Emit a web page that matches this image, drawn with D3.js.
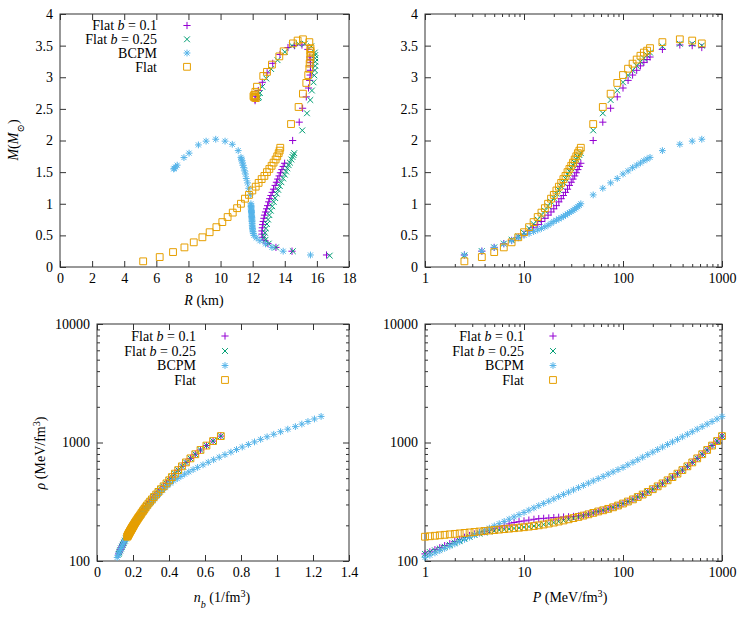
<!DOCTYPE html>
<html><head><meta charset="utf-8">
<script src="https://cdn.jsdelivr.net/npm/d3@7"></script>
<style>
body{margin:0;background:#fff}
svg{display:block}
text{font-family:"Liberation Serif","Times New Roman",Times,Tinos,"Noto Serif","DejaVu Serif",FreeSerif,serif;fill:#000}
</style>
</head><body>
<svg id="c" width="747" height="623"></svg>
<script>
// ---------------- DATA ----------------
// Mass-radius sequences (central pressure, MeV/fm^3)
const pcGrid = [2.5,3.75,5,6.25,7.5,8.75,10,11.25,12.5,13.75,15,16.25,17.5,18.75,20,21.25,22.5,23.75,25,26.25,27.5,28.75,30,31.25,32.5,33.75,35,36.25,37.5,50,62.5,75,87.5,100,112.5,125,137.5,150,162.5,175,187.5,250,375,500,625];
const pcBeyond = [1250,2500,3750,5000,6250,7500,8750,10000,11250,12500,13750,15000];

const massB01 = [0.19,0.25,0.31,0.37,0.42,0.47,0.52,0.57,0.62,0.67,0.72,0.77,0.82,0.87,0.92,0.97,1.03,1.08,1.13,1.18,1.23,1.29,1.34,1.39,1.44,1.49,1.54,1.59,1.64,2.00,2.29,2.51,2.69,2.83,2.95,3.035,3.11,3.18,3.235,3.28,3.32,3.44,3.51,3.50,3.47,3.36,3.22,3.07,2.92,2.79,2.70,2.65,2.63];
const radiusB01 = [16.6,14.45,13.45,12.95,12.7,12.6,12.58,12.58,12.6,12.62,12.66,12.7,12.74,12.8,12.87,12.93,13.0,13.06,13.14,13.22,13.3,13.4,13.48,13.56,13.65,13.73,13.82,13.9,13.99,14.49,14.9,15.11,15.34,15.48,15.55,15.58,15.6,15.6,15.6,15.58,15.56,15.44,15.07,14.6,14.2,13.7,13.25,12.9,12.6,12.35,12.2,12.15,12.15];

const massB025 = [0.18,0.25,0.31,0.37,0.43,0.48,0.54,0.61,0.68,0.75,0.82,0.89,0.96,1.03,1.09,1.16,1.22,1.28,1.34,1.40,1.46,1.51,1.56,1.61,1.65,1.70,1.74,1.77,1.80,2.16,2.43,2.64,2.79,2.92,3.03,3.11,3.18,3.245,3.30,3.35,3.39,3.49,3.53,3.53,3.50,3.40,3.27,3.13,2.98,2.85,2.75,2.69,2.67];
const radiusB025 = [16.8,14.5,13.45,13.0,12.8,12.72,12.77,12.83,12.89,12.96,13.04,13.13,13.22,13.31,13.4,13.5,13.59,13.69,13.79,13.9,14.0,14.08,14.16,14.24,14.32,14.41,14.48,14.54,14.59,15.09,15.38,15.59,15.69,15.79,15.84,15.88,15.9,15.9,15.9,15.89,15.87,15.65,15.25,14.85,14.45,14.0,13.55,13.15,12.85,12.6,12.45,12.38,12.35];

const massBCPM = [0.19,0.25,0.31,0.365,0.415,0.46,0.50,0.53,0.56,0.585,0.61,0.635,0.66,0.69,0.72,0.74,0.76,0.78,0.80,0.82,0.84,0.86,0.876,0.895,0.915,0.935,0.955,0.975,1.0,1.14,1.245,1.33,1.40,1.47,1.52,1.57,1.61,1.644,1.68,1.707,1.733,1.84,1.94,1.99,2.02,1.99,1.93,1.80,1.73,1.61,1.58,1.56,1.55];
const radiusBCPM = [15.6,13.9,13.2,12.8,12.45,12.22,12.08,12.04,12.02,12.0,11.99,11.98,11.97,11.97,11.96,11.96,11.95,11.95,11.94,11.94,11.93,11.93,11.92,11.92,11.91,11.91,11.9,11.9,11.89,11.85,11.75,11.68,11.6,11.55,11.5,11.45,11.4,11.37,11.33,11.3,11.27,11.1,10.73,10.28,9.7,9.1,8.62,8.04,7.72,7.3,7.2,7.12,7.08];

const massFlat = [0.09,0.157,0.236,0.31,0.39,0.47,0.55,0.63,0.71,0.79,0.86,0.93,1.0,1.08,1.14,1.21,1.27,1.33,1.39,1.44,1.50,1.55,1.60,1.65,1.70,1.75,1.80,1.84,1.885,2.26,2.53,2.74,2.91,3.035,3.135,3.215,3.28,3.34,3.39,3.42,3.46,3.555,3.60,3.58,3.535,3.41,3.33,3.20,3.085,3.02,2.85,2.77,2.72,2.70,2.68,2.67,2.69];
const radiusFlat = [5.18,6.21,7.04,7.75,8.33,8.87,9.32,9.74,10.11,10.44,10.76,11.03,11.27,11.52,11.77,11.98,12.19,12.37,12.56,12.73,12.89,13.04,13.18,13.3,13.43,13.53,13.62,13.68,13.72,14.39,14.86,15.13,15.34,15.46,15.53,15.55,15.59,15.6,15.6,15.6,15.6,15.53,15.13,14.8,14.51,13.93,13.66,13.2,12.89,12.66,12.27,12.17,12.1,12.05,12.1,12.2,12.15];

// Equation of state tables (pressure grid, MeV/fm^3)
const pressureGrid = [1,1.12,1.26,1.41,1.58,1.78,2.00,2.24,2.51,2.82,3.16,3.55,3.98,4.47,5.01,5.62,6.31,7.08,7.94,8.91,10,11.2,12.6,14.1,15.8,17.8,20.0,22.4,25.1,28.2,31.6,35.5,39.8,44.7,50.1,56.2,63.1,70.8,79.4,89.1,100,112,126,141,158,178,200,224,251,282,316,355,398,447,501,562,631,708,794,891,1000];

const rhoB01 = [114.8,119.4,124.5,129.4,134.9,140.3,146.2,152.4,158.5,164.1,168.9,173.0,177.0,182.0,188.0,194.5,199.5,205.6,211.3,214.8,217.8,221.3,224.9,227.5,229.1,230.7,232.3,233.9,235.0,236.0,237.7,239.9,243.2,247.7,254.7,261.8,267.9,275.4,283.8,293.8,305.5,317.7,331.1,346.7,363.9,382.8,403.6,426.6,451.9,479.7,510.5,545.8,584.8,629.5,679.2,734.5,796.2,865.0,941.9,1028.0,1132.4];
const nbB01 = [0.120,0.125,0.130,0.135,0.141,0.146,0.152,0.158,0.164,0.169,0.174,0.178,0.182,0.187,0.193,0.199,0.203,0.208,0.213,0.216,0.219,0.222,0.225,0.227,0.228,0.229,0.231,0.232,0.233,0.234,0.235,0.237,0.240,0.243,0.248,0.254,0.258,0.264,0.270,0.277,0.286,0.295,0.305,0.316,0.329,0.341,0.355,0.370,0.386,0.401,0.416,0.433,0.451,0.472,0.494,0.519,0.546,0.575,0.608,0.645,0.688];

const rhoB025 = [114.8,118.9,123.0,127.4,131.8,137.1,142.9,148.6,154.9,160.3,166.0,170.2,173.8,177.0,179.9,182.4,184.5,186.2,188.4,190.5,192.8,195.0,197.2,200.0,203.2,207.0,210.9,215.3,219.8,224.9,230.1,235.5,241.5,247.7,254.7,261.8,267.9,275.4,283.8,293.8,305.5,317.7,331.1,346.7,363.9,382.8,403.6,426.6,451.9,479.7,510.5,545.8,584.8,629.5,679.2,734.5,796.2,865.0,941.9,1028.0,1132.4];
const nbB025 = [0.120,0.124,0.129,0.133,0.138,0.143,0.149,0.155,0.161,0.166,0.171,0.175,0.180,0.183,0.186,0.188,0.190,0.191,0.193,0.195,0.197,0.199,0.201,0.203,0.206,0.209,0.212,0.216,0.220,0.224,0.228,0.233,0.238,0.243,0.248,0.254,0.258,0.264,0.270,0.277,0.286,0.295,0.305,0.316,0.329,0.341,0.355,0.370,0.386,0.401,0.416,0.433,0.451,0.472,0.494,0.519,0.546,0.575,0.608,0.645,0.688];

const rhoBCPM = [107.2,111.9,117.0,122.2,127.6,133.4,139.3,145.5,152.1,158.9,166.0,173.4,181.1,189.2,197.7,206.5,215.8,225.4,235.5,246.0,257.0,268.5,280.5,293.1,306.2,319.9,334.2,349.1,364.8,381.1,398.1,415.9,434.5,453.9,474.2,495.5,517.6,540.8,564.9,590.2,616.6,648.0,680.8,715.4,751.6,789.8,829.9,872.0,916.2,962.7,1011.6,1062.9,1116.9,1173.6,1233.1,1295.7,1361.5,1430.6,1503.2,1579.5,1659.6];
const nbBCPM = [0.112,0.117,0.122,0.128,0.133,0.139,0.145,0.152,0.158,0.165,0.171,0.178,0.186,0.194,0.202,0.210,0.219,0.228,0.237,0.246,0.256,0.266,0.276,0.286,0.297,0.308,0.318,0.329,0.341,0.352,0.365,0.379,0.393,0.409,0.425,0.446,0.466,0.487,0.510,0.534,0.559,0.589,0.618,0.648,0.679,0.711,0.744,0.775,0.807,0.841,0.875,0.909,0.945,0.982,1.020,1.060,1.102,1.138,1.172,1.208,1.245];

const rhoFlat = [160.3,161.8,163.3,164.8,166.3,167.9,169.4,171.0,172.6,174.2,175.8,177.4,179.1,180.7,182.4,184.1,185.8,187.5,189.2,191.0,192.8,195.0,197.2,200.0,203.2,207.0,210.9,215.3,219.8,224.9,230.1,235.5,241.5,247.7,254.7,261.8,267.9,275.4,283.8,293.8,305.5,317.7,331.1,346.7,363.9,382.8,403.6,426.6,451.9,479.7,510.5,545.8,584.8,629.5,679.2,734.5,796.2,865.0,941.9,1028.0,1132.4];
const nbFlat = [0.168,0.169,0.171,0.172,0.173,0.175,0.176,0.178,0.179,0.180,0.182,0.183,0.185,0.186,0.188,0.189,0.191,0.192,0.194,0.195,0.197,0.199,0.201,0.203,0.206,0.209,0.212,0.216,0.220,0.224,0.228,0.233,0.238,0.243,0.248,0.254,0.258,0.264,0.270,0.277,0.286,0.295,0.305,0.316,0.329,0.341,0.355,0.370,0.386,0.401,0.416,0.433,0.451,0.472,0.494,0.519,0.546,0.575,0.608,0.645,0.688];

// Tick values
const radiusTicks = [0,2,4,6,8,10,12,14,16,18];
const massTicks = [0,0.5,1,1.5,2,2.5,3,3.5,4];
const pressureTicks = [1,10,100,1000];
const nbTicks = [0,0.2,0.4,0.6,0.8,1,1.2,1.4];
const rhoTicks = [100,1000,10000];

// Series definitions (drawing order = legend order)
const seriesNames = ["b01","b025","bcpm","flat"];
const seriesStyle = {
  b01:  {color:"#9400D3", marker:"plus"},
  b025: {color:"#009E73", marker:"cross"},
  bcpm: {color:"#56B4E9", marker:"star"},
  flat: {color:"#E69F00", marker:"square"}
};
const mrData = {
  b01:{m:massB01,r:radiusB01}, b025:{m:massB025,r:radiusB025},
  bcpm:{m:massBCPM,r:radiusBCPM}, flat:{m:massFlat,r:radiusFlat}
};
const eosData = {
  b01:{rho:rhoB01,nb:nbB01}, b025:{rho:rhoB025,nb:nbB025},
  bcpm:{rho:rhoBCPM,nb:nbBCPM}, flat:{rho:rhoFlat,nb:nbFlat}
};

// ---------------- DRAWING ----------------
const svg = d3.select("#c");
const FONT = 14;
const FAMILY = '"Liberation Serif","Times New Roman",Times,Tinos,"Noto Serif","DejaVu Serif",FreeSerif,serif';

function markerPath(type){
  if(type==="plus"){const s=3.6;return `M${-s},0H${s}M0,${-s}V${s}`;}
  if(type==="cross"){const s=2.9;return `M${-s},${-s}L${s},${s}M${-s},${s}L${s},${-s}`;}
  if(type==="star"){const s=3.4,c=2.5;return `M${-s},0H${s}M0,${-s}V${s}M${-c},${-c}L${c},${c}M${-c},${c}L${c},${-c}`;}
  const s=3.4; return `M${-s},${-s}H${s}V${s}H${-s}Z`;
}

function inDomain(scale,v){const d=scale.domain();const lo=Math.min(d[0],d[1]),hi=Math.max(d[0],d[1]);return v>=lo-1e-9&&v<=hi+1e-9;}

function drawPoints(g,xs,ys,xS,yS,style){
  const pts=xs.map((x,i)=>[x,ys[i]]).filter(p=>inDomain(xS,p[0])&&inDomain(yS,p[1]));
  g.append("g").selectAll("path").data(pts).join("path")
    .attr("d",markerPath(style.marker))
    .attr("transform",p=>`translate(${xS(p[0])},${yS(p[1])})`)
    .attr("fill","none").attr("stroke",style.color).attr("stroke-width",1);
}

function fmt(d){return String(d);}

function frame(xS,yS,opts){
  const g=svg.append("g");
  const [x0,x1]=xS.range(), [y1,y0]=yS.range();
  const styleAxis=sel=>{sel.select(".domain").remove();sel.selectAll("line").attr("stroke","#333");
    sel.attr("font-family",FAMILY).attr("font-size",FONT);};
  const majorX=opts.xTicks, majorY=opts.yTicks;
  g.append("g").attr("transform",`translate(0,${y1})`)
    .call(d3.axisBottom(xS).tickValues(majorX).tickFormat(fmt).tickSizeInner(-6).tickSizeOuter(0).tickPadding(6)).call(styleAxis);
  g.append("g").attr("transform",`translate(0,${y0})`)
    .call(d3.axisTop(xS).tickValues(majorX).tickFormat("").tickSizeInner(-6).tickSizeOuter(0)).call(styleAxis);
  g.append("g").attr("transform",`translate(${x0},0)`)
    .call(d3.axisLeft(yS).tickValues(majorY).tickFormat(fmt).tickSizeInner(-6).tickSizeOuter(0).tickPadding(7)).call(styleAxis);
  g.append("g").attr("transform",`translate(${x1},0)`)
    .call(d3.axisRight(yS).tickValues(majorY).tickFormat("").tickSizeInner(-6).tickSizeOuter(0)).call(styleAxis);
  if(opts.logX){
    const minor=xS.ticks().filter(v=>!majorX.includes(v));
    g.append("g").attr("transform",`translate(0,${y1})`).call(d3.axisBottom(xS).tickValues(minor).tickFormat("").tickSizeInner(-3).tickSizeOuter(0)).call(styleAxis);
    g.append("g").attr("transform",`translate(0,${y0})`).call(d3.axisTop(xS).tickValues(minor).tickFormat("").tickSizeInner(-3).tickSizeOuter(0)).call(styleAxis);
  }
  if(opts.logY){
    const minor=yS.ticks().filter(v=>!majorY.includes(v));
    g.append("g").attr("transform",`translate(${x0},0)`).call(d3.axisLeft(yS).tickValues(minor).tickFormat("").tickSizeInner(-3).tickSizeOuter(0)).call(styleAxis);
    g.append("g").attr("transform",`translate(${x1},0)`).call(d3.axisRight(yS).tickValues(minor).tickFormat("").tickSizeInner(-3).tickSizeOuter(0)).call(styleAxis);
  }
  g.selectAll(".tick text").attr("fill","#000");
  g.append("rect").attr("x",x0).attr("y",y0).attr("width",x1-x0).attr("height",y1-y0)
    .attr("fill","none").attr("stroke","#333").attr("stroke-width",1);
  return g;
}

function legend(tx,mx,ys){
  const labels=[
    [{t:"Flat "},{t:"b",i:true},{t:" = 0.1"}],
    [{t:"Flat "},{t:"b",i:true},{t:" = 0.25"}],
    [{t:"BCPM"}],
    [{t:"Flat"}]
  ];
  seriesNames.forEach((k,i)=>{
    const t=svg.append("text").attr("x",tx).attr("y",ys[i]).attr("dy","0.35em")
      .attr("text-anchor","end").attr("font-size",FONT);
    labels[i].forEach(p=>t.append("tspan").text(p.t).attr("font-style",p.i?"italic":null));
    svg.append("path").attr("d",markerPath(seriesStyle[k].marker))
      .attr("transform",`translate(${mx},${ys[i]})`)
      .attr("fill","none").attr("stroke",seriesStyle[k].color).attr("stroke-width",1);
  });
}

// Scales
const tlX=d3.scaleLinear().domain([0,18]).range([60,349]);
const tlY=d3.scaleLinear().domain([0,4]).range([267,14]);
const trX=d3.scaleLog().domain([1,1000]).range([425,722]);
const trY=d3.scaleLinear().domain([0,4]).range([267,14]);
const blX=d3.scaleLinear().domain([0,1.4]).range([97,349]);
const blY=d3.scaleLog().domain([100,10000]).range([561,324]);
const brX=d3.scaleLog().domain([1,1000]).range([425,722]);
const brY=d3.scaleLog().domain([100,10000]).range([561,324]);

// Top-left: M vs R
frame(tlX,tlY,{xTicks:radiusTicks,yTicks:massTicks});
seriesNames.forEach(k=>drawPoints(svg,mrData[k].r,mrData[k].m,tlX,tlY,seriesStyle[k]));
legend(157,187,[25.5,39.3,53,66.8]);

// Top-right: M vs central P
frame(trX,trY,{xTicks:pressureTicks,yTicks:massTicks,logX:true});
seriesNames.forEach(k=>{
  const m=mrData[k].m;
  const pc=pcGrid.concat(pcBeyond.slice(0,m.length-pcGrid.length));
  drawPoints(svg,pc,m,trX,trY,seriesStyle[k]);
});

// Bottom-left: rho vs nb
frame(blX,blY,{xTicks:nbTicks,yTicks:rhoTicks,logY:true});
seriesNames.forEach(k=>drawPoints(svg,eosData[k].nb,eosData[k].rho,blX,blY,seriesStyle[k]));
legend(196,225,[336,351,365.5,380]);

// Bottom-right: rho vs P
frame(brX,brY,{xTicks:pressureTicks,yTicks:rhoTicks,logX:true,logY:true});
seriesNames.forEach(k=>drawPoints(svg,pressureGrid,eosData[k].rho,brX,brY,seriesStyle[k]));
legend(524,553,[336,351,365.5,380]);

// Axis labels
function lbl(x,y,parts,rot){
  const t=svg.append("text").attr("text-anchor","middle").attr("font-size",FONT)
    .attr("transform",`translate(${x},${y})`+(rot?" rotate(-90)":"")).attr("dy","0.35em");
  parts.forEach(p=>{
    const s=t.append("tspan").text(p.t);
    if(p.i) s.attr("font-style","italic");
    if(p.sub) s.attr("baseline-shift","sub").attr("font-size",FONT*0.72);
    if(p.sup) s.attr("baseline-shift","super").attr("font-size",FONT*0.72);
    if(p.after) s.attr("baseline-shift","0");
  });
  return t;
}
lbl(204,300,[{t:"R",i:true},{t:" (km)"}]);
lbl(13,140,[{t:"M",i:true},{t:"("},{t:"M",i:true},{t:"⊙",sub:true},{t:")",after:true}],true);
lbl(222,597,[{t:"n",i:true},{t:"b",i:true,sub:true},{t:" (1/fm",after:true},{t:"3",sup:true},{t:")",after:true}]);
lbl(40,453,[{t:"ρ",i:true},{t:" (MeV/fm"},{t:"3",sup:true},{t:")",after:true}],true);
lbl(570,597,[{t:"P",i:true},{t:" (MeV/fm"},{t:"3",sup:true},{t:")",after:true}]);
</script>
</body></html>
